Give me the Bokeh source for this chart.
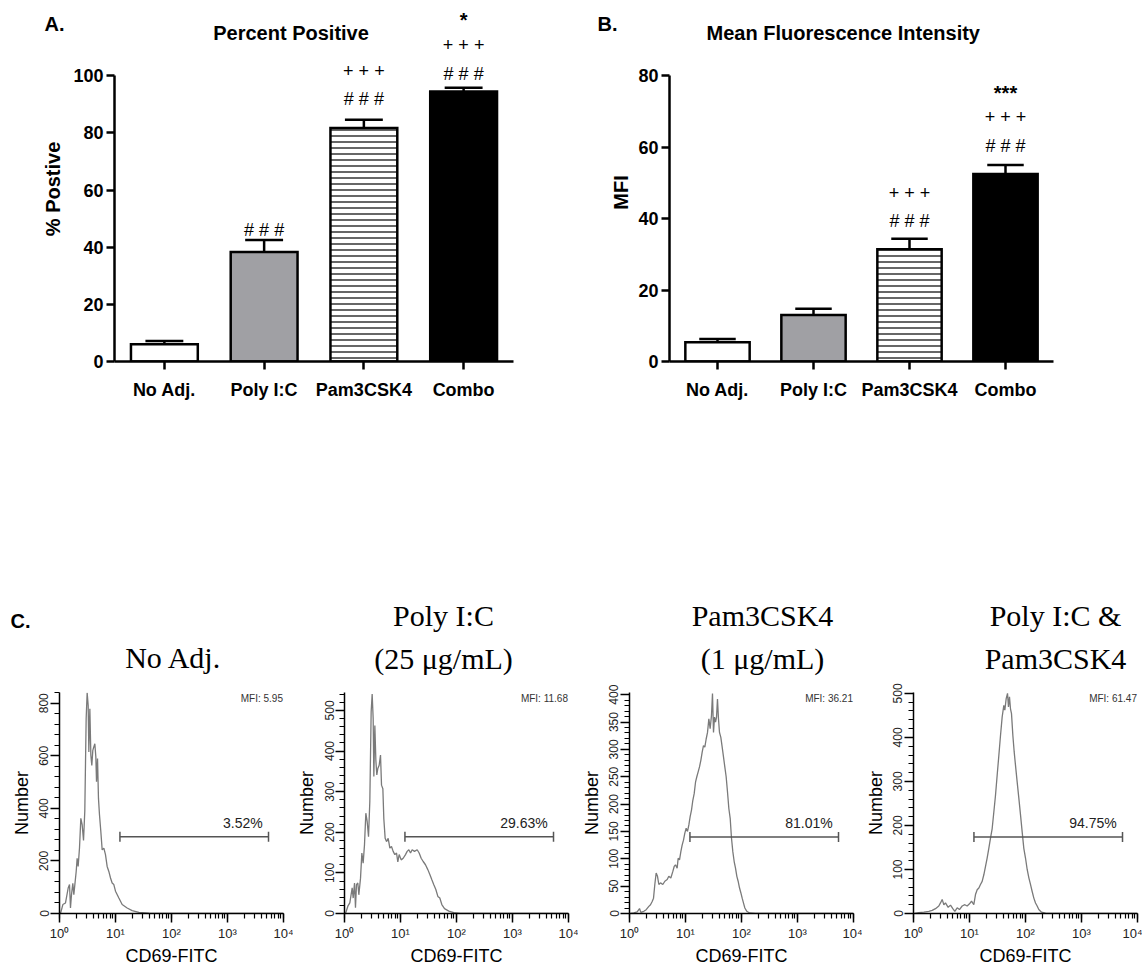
import math
from bokeh.plotting import figure
from bokeh.layouts import column, row
from bokeh.models import (Range1d, FixedTicker, SingleIntervalTicker, LogTicker,
                          CustomJSTickFormatter, Label, ColumnDataSource)
from bokeh.core.properties import value
from bokeh.embed import file_html
from bokeh.resources import INLINE

# ---------------- data ----------------
categories = ["No Adj.", "Poly I:C", "Pam3CSK4", "Combo"]
pct_mean = [6.0, 38.3, 81.7, 94.5]
pct_sem = [1.2, 4.2, 2.9, 1.3]
mfi_mean = [5.4, 13.0, 31.4, 52.5]
mfi_sem = [0.9, 1.8, 3.0, 2.5]

pct_marks = [(1, "# # #"), (2, "# # #"), (2, "+ + +"), (3, "# # #"), (3, "+ + +"), (3, "*")]
mfi_marks = [(2, "# # #"), (2, "+ + +"), (3, "# # #"), (3, "+ + +"), (3, "***")]

hist_titles = [["No Adj."], ["Poly I:C", "(25 μg/mL)"], ["Pam3CSK4", "(1 μg/mL)"], ["Poly I:C &", "Pam3CSK4"]]
mfi_text = ["MFI: 5.95", "MFI: 11.68", "MFI: 36.21", "MFI: 61.47"]
gate_pct = ["3.52%", "29.63%", "81.01%", "94.75%"]
gate_y = [292, 189, 140, 174]
gate_lo = 12
gate_hi = 5400

h1_logx = [0.018, 0.060, 0.107, 0.155, 0.179, 0.196, 0.214, 0.238, 0.256, 0.274,
           0.298, 0.315, 0.333, 0.357, 0.381, 0.405, 0.429, 0.452, 0.476, 0.494,
           0.512, 0.524, 0.542, 0.560, 0.577, 0.595, 0.613, 0.631, 0.649, 0.661,
           0.679, 0.696, 0.714, 0.738, 0.762, 0.792, 0.821, 0.851, 0.881, 0.911,
           0.940, 0.970, 1.000, 1.060, 1.119, 1.208, 1.298, 1.417, 1.595, 1.893, 4.0]
h1_count = [0, 34, 40, 97, 110, 21, 72, 115, 72, 110,
            160, 210, 179, 249, 362, 337, 278, 391, 741, 840,
            792, 615, 779, 602, 563, 621, 634, 646, 596, 501,
            590, 438, 376, 312, 242, 249, 224, 179, 160, 135,
            116, 110, 85, 59, 34, 21, 11, 4, 1, 0, 0]

h2_logx = [0.018, 0.060, 0.095, 0.137, 0.155, 0.179, 0.196, 0.214, 0.238, 0.256,
           0.286, 0.310, 0.333, 0.357, 0.381, 0.405, 0.429, 0.452, 0.476, 0.494,
           0.512, 0.524, 0.542, 0.560, 0.577, 0.595, 0.619, 0.643, 0.661, 0.685,
           0.702, 0.726, 0.750, 0.780, 0.810, 0.839, 0.869, 0.899, 0.929, 0.952,
           0.976, 1.012, 1.048, 1.089, 1.119, 1.149, 1.179, 1.208, 1.250, 1.298,
           1.333, 1.369, 1.405, 1.446, 1.488, 1.524, 1.560, 1.595, 1.631, 1.667,
           1.702, 1.738, 1.786, 1.863, 1.952, 2.071, 4.0]
h2_count = [0, 18, 26, 63, 38, 75, 14, 71, 75, 46,
            87, 149, 124, 169, 247, 226, 189, 275, 496, 540,
            480, 337, 463, 377, 341, 357, 365, 390, 316, 307,
            234, 185, 177, 185, 161, 165, 153, 145, 149, 127,
            145, 132, 136, 145, 153, 157, 149, 157, 153, 157,
            149, 136, 128, 120, 108, 96, 83, 71, 59, 42,
            38, 22, 12, 6, 2, 0, 0]

h3_logx = [0.018, 0.077, 0.137, 0.179, 0.202, 0.256, 0.298, 0.345, 0.375, 0.405,
           0.429, 0.452, 0.476, 0.500, 0.524, 0.554, 0.595, 0.631, 0.673, 0.702,
           0.738, 0.774, 0.798, 0.821, 0.851, 0.869, 0.893, 0.917, 0.940, 0.964,
           0.988, 1.012, 1.036, 1.060, 1.083, 1.107, 1.131, 1.155, 1.179, 1.202,
           1.226, 1.250, 1.274, 1.298, 1.321, 1.345, 1.369, 1.393, 1.417, 1.440,
           1.464, 1.482, 1.500, 1.518, 1.536, 1.554, 1.571, 1.589, 1.607, 1.631,
           1.655, 1.679, 1.702, 1.726, 1.750, 1.774, 1.798, 1.821, 1.845, 1.869,
           1.893, 1.917, 1.940, 1.964, 1.988, 2.012, 2.036, 2.060, 2.095, 2.143,
           2.250, 4.0]
h3_count = [0, 1, 3, 9, 2, 4, 7, 13, 16, 22,
            28, 53, 74, 68, 53, 56, 53, 59, 62, 68,
            65, 77, 86, 89, 83, 101, 98, 113, 125, 134,
            147, 156, 150, 162, 177, 189, 207, 219, 240, 250,
            259, 268, 280, 295, 307, 304, 319, 331, 356, 338,
            362, 402, 331, 359, 350, 359, 392, 356, 331, 322,
            304, 286, 268, 250, 222, 192, 174, 138, 113, 95,
            83, 68, 59, 47, 38, 28, 19, 10, 4, 1,
            0, 0]

h4_logx = [0.018, 0.095, 0.185, 0.274, 0.333, 0.393, 0.452, 0.482, 0.512, 0.542,
           0.571, 0.619, 0.661, 0.702, 0.738, 0.780, 0.821, 0.869, 0.917, 0.958,
           1.000, 1.036, 1.077, 1.107, 1.137, 1.167, 1.196, 1.226, 1.256, 1.286,
           1.315, 1.345, 1.375, 1.405, 1.435, 1.464, 1.494, 1.524, 1.554, 1.583,
           1.613, 1.631, 1.655, 1.679, 1.696, 1.714, 1.732, 1.750, 1.774, 1.798,
           1.821, 1.851, 1.881, 1.911, 1.940, 1.970, 2.000, 2.030, 2.060, 2.089,
           2.119, 2.149, 2.179, 2.208, 2.238, 2.286, 2.357, 2.536, 4.0]
h4_count = [0, 2, 3, 5, 7, 11, 17, 24, 32, 20,
            24, 14, 19, 11, 5, 13, 9, 17, 20, 17,
            22, 28, 20, 43, 54, 58, 66, 73, 88, 107,
            126, 148, 171, 193, 231, 268, 314, 359, 405, 446,
            473, 462, 488, 500, 469, 492, 465, 454, 405, 367,
            337, 299, 262, 224, 186, 148, 126, 100, 81, 66,
            50, 35, 24, 17, 9, 3, 1, 0, 0]

hist_logx = [h1_logx, h2_logx, h3_logx, h4_logx]
hist_count = [h1_count, h2_count, h3_count, h4_count]

# ---------------- style / layout ----------------
SANS = "Liberation Sans"
SERIF = "Liberation Serif"
bar_fill = ["white", "#a0a0a4", "white", "black"]
bar_hatch = [" ", " ", "-", " "]

TOP_H = 408          # height of the bar-chart block
BASE_Y = 361         # page y of the bar baseline (frame bottom)


def label(p, x, y, text, size, style="normal", align="center", baseline="middle",
          font=SANS, color="black"):
    p.add_layout(Label(x=x, y=y, text=text, text_font=font, text_font_size=size,
                       text_font_style=style, text_align=align, text_baseline=baseline,
                       text_color=color))


def strip(width, height):
    p = figure(width=width, height=height, x_range=Range1d(0, width), y_range=Range1d(0, height),
               min_border=0, output_backend="svg", toolbar_location=None,
               x_axis_location=None, y_axis_location=None)
    p.grid.visible = False
    p.outline_line_color = None
    return p


def stext(p, x, y_page_local, text, size, style="normal", align="center", font=SANS,
          angle=0.0, color="black"):
    h = p.height
    p.text(x=[x], y=[h - y_page_local], text=[text], text_font=value(font),
           text_font_size=value(size), text_font_style=style, text_align=align,
           text_baseline="middle", angle=angle, text_color=color)


def bar_panel(means, sems, marks, mark_y, title, title_x, px_per_unit, y_max, width,
              left, right):
    y_end = BASE_Y / px_per_unit
    p = figure(width=width, height=TOP_H, x_range=Range1d(-0.5, 3.5), y_range=Range1d(0, y_end),
               min_border_left=left, min_border_right=right, min_border_top=0,
               min_border_bottom=TOP_H - BASE_Y, output_backend="svg", toolbar_location=None)
    p.grid.visible = False
    p.outline_line_color = None
    xs = list(range(len(categories)))
    src = ColumnDataSource(dict(x=xs, top=means, fill=bar_fill, hatch=bar_hatch))
    p.vbar(x="x", top="top", width=0.67, source=src, fill_color="fill", line_color="black",
           line_width=2.5, hatch_pattern="hatch", hatch_color="black", hatch_scale=6,
           hatch_weight=1.2, line_join="miter")
    tops = [m + s for m, s in zip(means, sems)]
    p.segment(x0=xs, y0=means, x1=xs, y1=tops, line_color="black", line_width=2.5)
    p.segment(x0=[x - 0.19 for x in xs], y0=tops, x1=[x + 0.19 for x in xs], y1=tops,
              line_color="black", line_width=2.5)
    for (ci, txt), yy in zip(marks, mark_y):
        if "*" in txt:
            label(p, ci, (BASE_Y - yy) / px_per_unit, txt, "20px", style="bold")
        else:
            label(p, ci, (BASE_Y - yy) / px_per_unit, txt, "18px")
    label(p, title_x, (BASE_Y - 32) / px_per_unit, title, "20px", style="bold")

    xa, ya = p.xaxis[0], p.yaxis[0]
    xa.ticker = FixedTicker(ticks=xs)
    xa.major_label_overrides = {x: c for x, c in zip(xs, categories)}
    ya.ticker = SingleIntervalTicker(interval=20, num_minor_ticks=0)
    ya.bounds = (0, y_max)
    for ax in (xa, ya):
        ax.axis_line_width = 2.5
        ax.axis_line_color = "black"
        ax.major_tick_line_width = 2.5
        ax.major_tick_line_color = "black"
        ax.major_tick_out = 8
        ax.major_tick_in = 0
        ax.minor_tick_line_color = None
        ax.major_label_text_font = SANS
        ax.major_label_text_font_style = "bold"
        ax.major_label_text_font_size = "18px"
        ax.major_label_text_color = "black"
    xa.major_label_standoff = 10
    ya.major_label_standoff = 3
    return p


# page-x layout of the top block: stripA 0-70, A 70-560, stripB 560-632, B 632-1142
stripA = strip(70, TOP_H)
stext(stripA, 44, 27, "A.", "20px", style="bold", align="left")
stext(stripA, 52, 213, "% Postive", "20px", style="bold", angle=math.pi / 2)
pA = bar_panel(pct_mean, pct_sem, pct_marks, [229, 98, 70, 73, 44, 19],
               "Percent Positive", 1.27, 2.857, 100, 490, 43, 47)
stripB = strip(72, TOP_H)
stext(stripB, 37, 27, "B.", "20px", style="bold", align="left")
stext(stripB, 60, 217, "MFI", "20px", style="bold", angle=math.pi / 2)
pB = bar_panel(mfi_mean, mfi_sem, mfi_marks, [220, 192, 145, 116, 92],
               "Mean Fluorescence Intensity", 1.31, 3.571, 80, 510, 37, 89)

# ---------------- histogram block ----------------
HDR_H = 270          # header strip with the serif titles (page y 408-678)
HIST_H = 290         # histogram figures (page y 678-968)
HIST_TOP = 14        # frame top at page y 692
FRAME_H = 222

header = strip(1142, HDR_H)
stext(header, 10, 620 - TOP_H, "C.", "20px", style="bold", align="left")
title_cx = [173, 443, 762, 1055]
for cx, lines in zip(title_cx, hist_titles):
    ys = [615, 658] if len(lines) == 2 else [657]
    for t, yy in zip(lines, ys):
        stext(header, cx, yy - TOP_H, t, "30px", font=SERIF)

SUP = CustomJSTickFormatter(code="""
const sup = ['\\u2070', '\\u00b9', '\\u00b2', '\\u00b3', '\\u2074', '\\u2075'];
const e = Math.round(Math.log10(tick));
return '10' + ((e >= 0 && e < sup.length) ? sup[e] : String(e));
""")

hist_y_end = [841, 544, 404, 502]
hist_interval = [200, 100, 50, 100]
hist_width = [293, 285, 284, 280]
hist_left = [59, 51, 51, 51]
hist_right = [10, 10, 9, 5]


def hist_panel(i):
    y_end = hist_y_end[i]
    upp = y_end / FRAME_H
    p = figure(width=hist_width[i], height=HIST_H, x_axis_type="log", x_range=Range1d(1, 1e4),
               y_range=Range1d(0, y_end), min_border_left=hist_left[i],
               min_border_right=hist_right[i], min_border_top=HIST_TOP,
               min_border_bottom=HIST_H - HIST_TOP - FRAME_H, output_backend="svg",
               toolbar_location=None)
    p.grid.visible = False
    p.outline_line_color = None
    p.line(x=[10 ** v for v in hist_logx[i]], y=hist_count[i], line_color="#7a7a7a",
           line_width=1.3)
    gy = gate_y[i]
    p.segment(x0=[gate_lo], y0=[gy], x1=[gate_hi], y1=[gy], line_color="#555555",
              line_width=1.5)
    p.scatter(x=[gate_lo, gate_hi], y=[gy, gy], marker="dash", angle=math.pi / 2, size=10,
              line_color="#555555", line_width=1.5)
    label(p, 10 ** 3.63, gy + 6 * upp, gate_pct[i], "14px", align="right", baseline="bottom",
          color="#222222")
    label(p, 10 ** 3.99, y_end - 6 * upp, mfi_text[i], "10px", align="right", color="#333333")

    xa, ya = p.xaxis[0], p.yaxis[0]
    xa.ticker = LogTicker(num_minor_ticks=10)
    xa.formatter = SUP
    ya.ticker = SingleIntervalTicker(interval=hist_interval[i], num_minor_ticks=5)
    for ax in (xa, ya):
        ax.axis_line_width = 1.5
        ax.axis_line_color = "black"
        ax.major_tick_line_width = 1.5
        ax.minor_tick_line_width = 1.2
        ax.major_tick_line_color = "black"
        ax.minor_tick_line_color = "black"
        ax.major_tick_out = 9
        ax.major_tick_in = 0
        ax.minor_tick_out = 5
        ax.minor_tick_in = 0
        ax.major_label_text_font = SANS
        ax.major_label_text_color = "#222222"
        ax.axis_label_text_font = SANS
        ax.axis_label_text_font_style = "normal"
        ax.axis_label_text_font_size = "18px"
        ax.axis_label_text_color = "black"
    xa.major_label_text_font_size = "13px"
    xa.major_label_standoff = 3
    xa.axis_label = "CD69-FITC"
    xa.axis_label_standoff = 2
    ya.major_label_text_font_size = "12px"
    ya.major_label_orientation = "vertical"
    ya.major_label_standoff = 2
    ya.axis_label = "Number"
    ya.axis_label_standoff = 5
    return p


hists = [hist_panel(i) for i in range(4)]

layout = column(row(stripA, pA, stripB, pB), header, row(*hists))
open("out.html", "w", encoding="utf-8").write(file_html(layout, INLINE))
